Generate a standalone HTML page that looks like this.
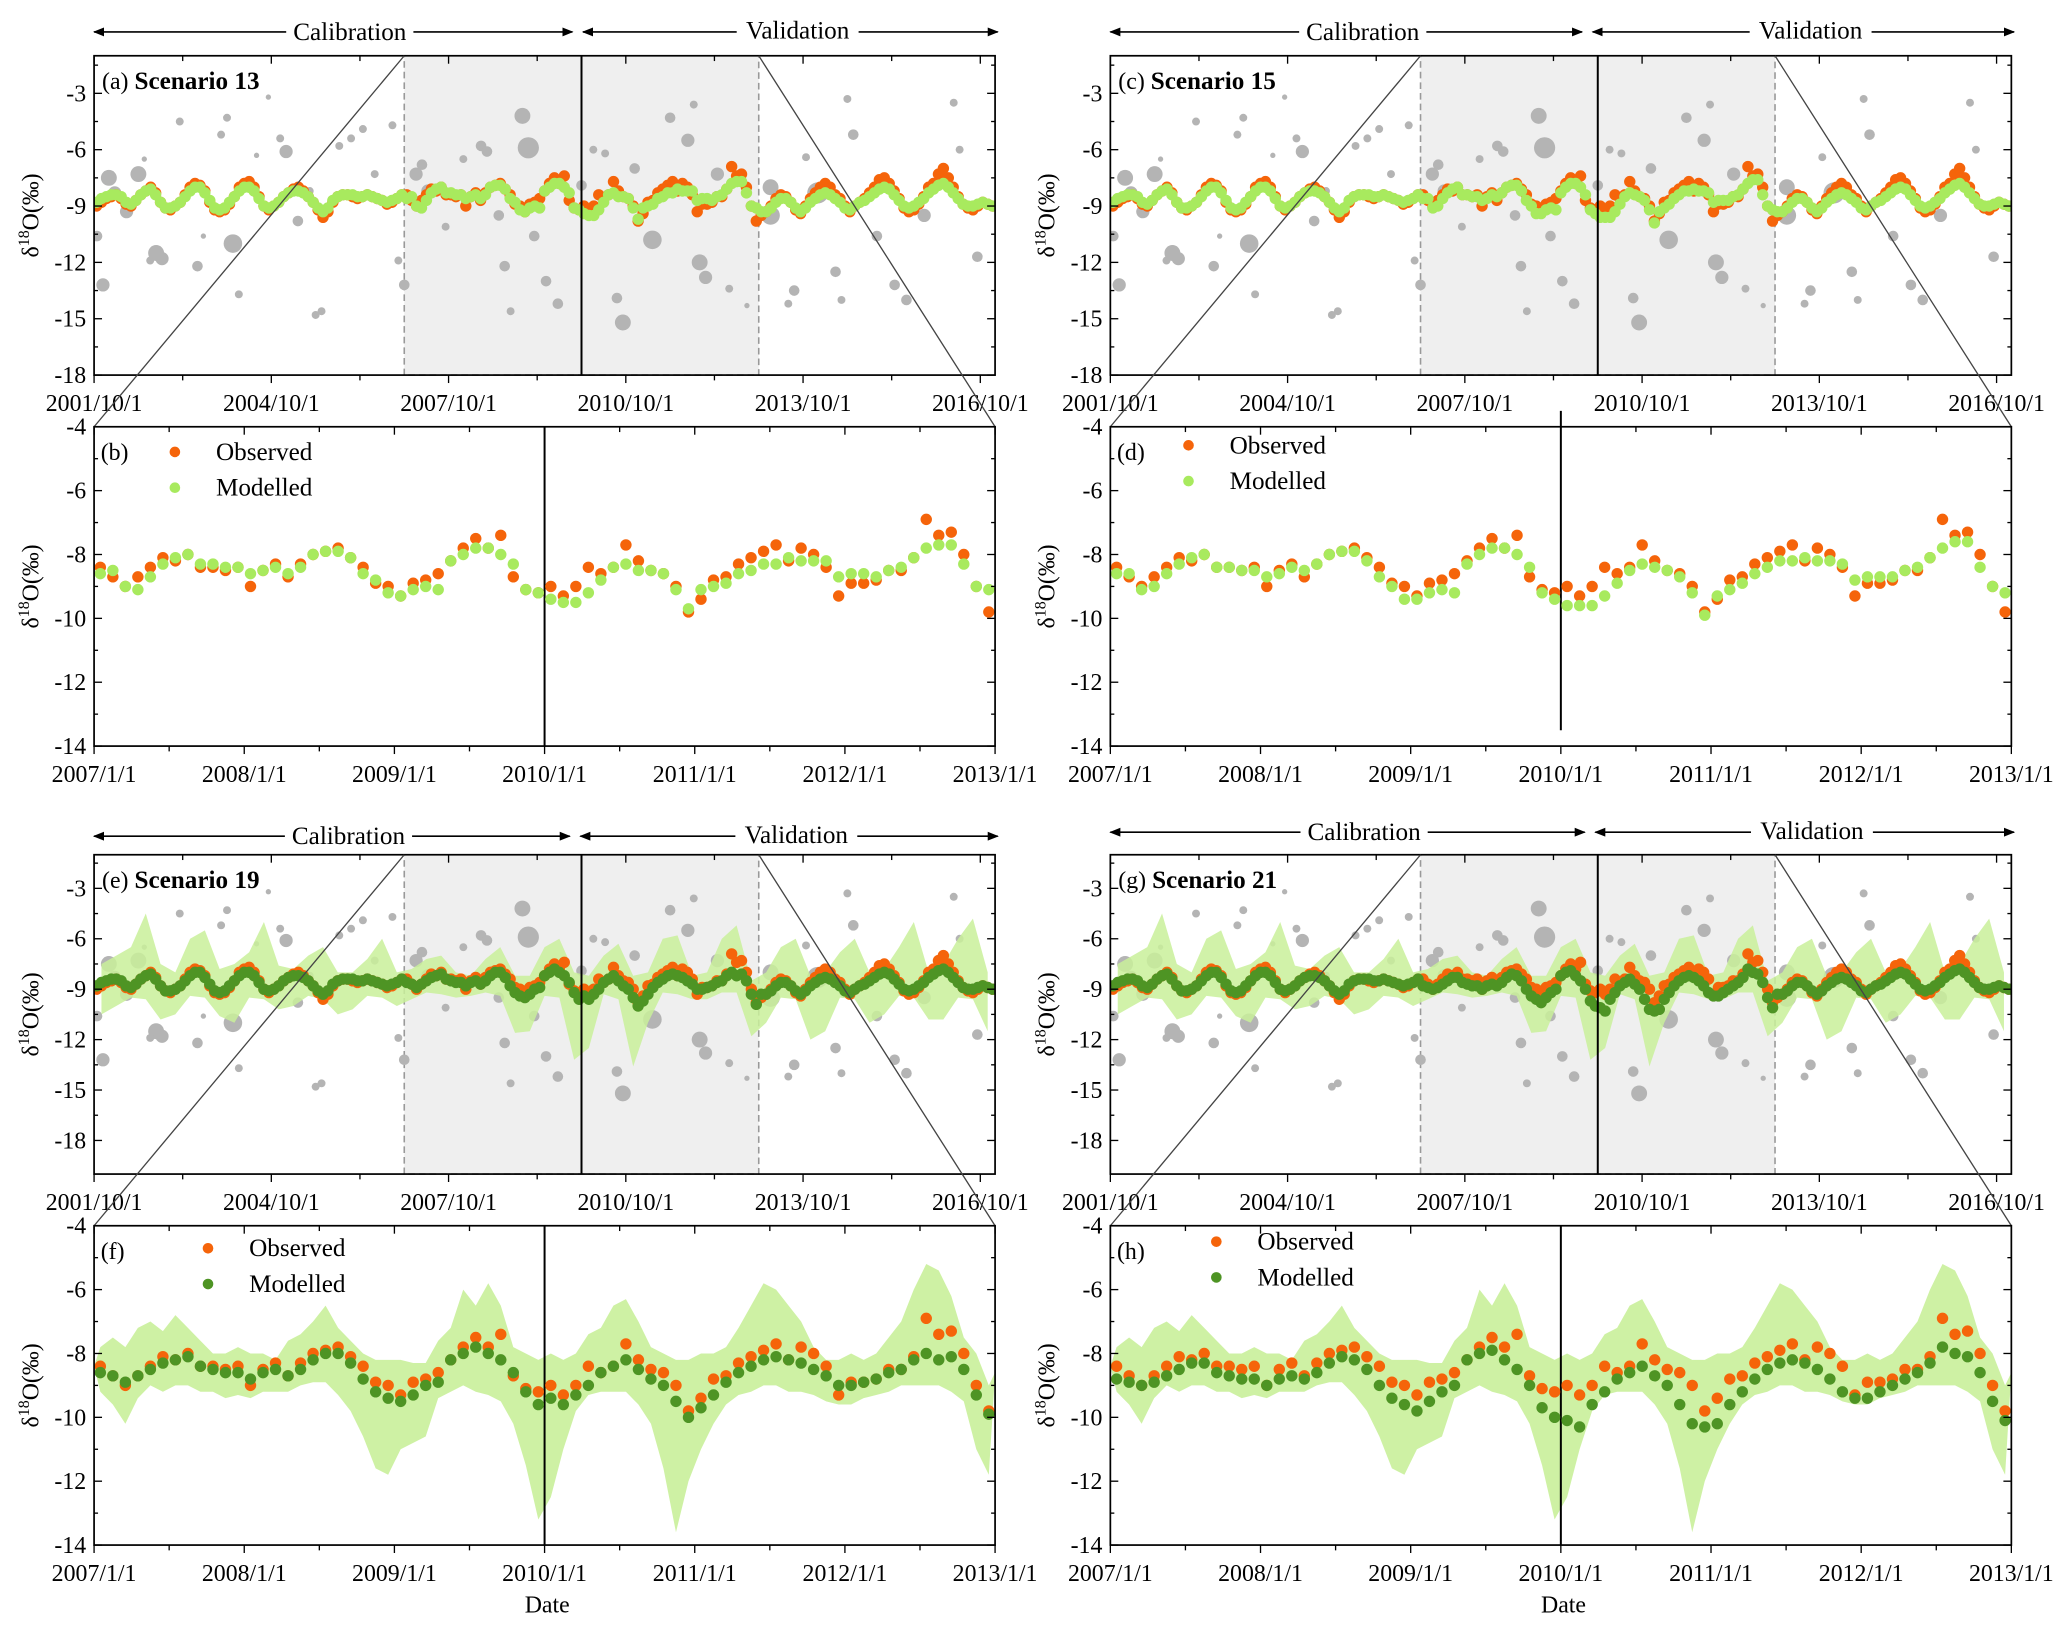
<!DOCTYPE html>
<html><head><meta charset="utf-8"><style>
html,body{margin:0;padding:0;background:#fff;}
svg{display:block;font-family:"Liberation Serif","DejaVu Serif",serif;}
svg text{font-family:"Liberation Serif","DejaVu Serif",serif;}
</style></head><body>
<svg id="chart" xmlns="http://www.w3.org/2000/svg" width="2067" height="1626" viewBox="0 0 1560 1227" font-family="Liberation Serif, serif">
<defs>
<marker id="ah" viewBox="0 0 10 10" refX="9" refY="5" markerWidth="7" markerHeight="7" orient="auto-start-reverse"><path d="M0,1 L10,5 L0,9 z" fill="#000"/></marker>
</defs>
</svg>
<script>
// ---------- DATA ----------
const obsMonthly = [
-8.4,-8.7,-9.0,-8.7,-8.4,-8.1,-8.2,-8.0,-8.4,-8.4,-8.5,-8.4,
-9.0,-8.5,-8.3,-8.7,-8.3,-8.0,-7.9,-7.8,-8.1,-8.4,-8.9,-9.0,
-9.3,-8.9,-8.8,-8.6,-8.2,-7.8,-7.5,-7.8,-7.4,-8.7,-9.1,-9.2,
-9.0,-9.3,-9.0,-8.4,-8.6,-8.4,-7.7,-8.2,-8.5,-8.6,-9.0,-9.8,
-9.4,-8.8,-8.7,-8.3,-8.1,-7.9,-7.7,-8.2,-7.8,-8.0,-8.4,-9.3,
-8.9,-8.9,-8.8,-8.5,-8.5,-8.1,-6.9,-7.4,-7.3,-8.0,-9.0,-9.8];
const mod13 = [
-8.6,-8.5,-9.0,-9.1,-8.7,-8.3,-8.1,-8.0,-8.3,-8.3,-8.4,-8.4,
-8.6,-8.5,-8.4,-8.6,-8.4,-8.0,-7.9,-7.9,-8.1,-8.6,-8.8,-9.2,
-9.3,-9.1,-9.0,-9.1,-8.2,-8.0,-7.8,-7.8,-8.0,-8.3,-9.1,-9.2,
-9.4,-9.5,-9.5,-9.2,-8.8,-8.4,-8.3,-8.5,-8.5,-8.6,-9.1,-9.7,
-9.1,-9.0,-8.9,-8.6,-8.5,-8.3,-8.3,-8.1,-8.2,-8.2,-8.2,-8.7,
-8.6,-8.6,-8.7,-8.5,-8.4,-8.1,-7.8,-7.7,-7.7,-8.3,-9.0,-9.1];
const mod15 = [
-8.6,-8.6,-9.1,-9.0,-8.6,-8.3,-8.1,-8.0,-8.4,-8.4,-8.5,-8.5,
-8.7,-8.6,-8.4,-8.5,-8.3,-8.0,-7.9,-7.9,-8.2,-8.7,-9.0,-9.4,
-9.4,-9.2,-9.1,-9.2,-8.3,-8.0,-7.8,-7.8,-8.0,-8.4,-9.2,-9.4,
-9.6,-9.6,-9.6,-9.3,-8.9,-8.5,-8.3,-8.4,-8.5,-8.7,-9.2,-9.9,
-9.3,-9.1,-8.9,-8.6,-8.4,-8.2,-8.2,-8.1,-8.2,-8.2,-8.3,-8.8,
-8.7,-8.7,-8.7,-8.5,-8.4,-8.1,-7.8,-7.6,-7.6,-8.4,-9.0,-9.2];
const mod19 = [
-8.6,-8.7,-8.9,-8.7,-8.5,-8.3,-8.2,-8.1,-8.4,-8.5,-8.6,-8.6,
-8.8,-8.6,-8.5,-8.7,-8.5,-8.2,-8.0,-8.0,-8.3,-8.8,-9.2,-9.4,
-9.5,-9.3,-9.0,-8.9,-8.2,-8.0,-7.8,-8.0,-8.2,-8.6,-9.2,-9.6,
-9.4,-9.6,-9.3,-9.0,-8.6,-8.4,-8.2,-8.5,-8.8,-9.0,-9.5,-10.0,
-9.7,-9.3,-8.9,-8.6,-8.4,-8.2,-8.1,-8.2,-8.3,-8.5,-8.7,-9.0,
-9.0,-8.9,-8.8,-8.6,-8.5,-8.2,-8.0,-8.2,-8.1,-8.5,-9.3,-9.9];
const mod21 = [
-8.8,-8.9,-9.0,-8.9,-8.7,-8.5,-8.3,-8.3,-8.6,-8.7,-8.8,-8.8,
-9.0,-8.8,-8.7,-8.8,-8.6,-8.3,-8.1,-8.2,-8.5,-9.0,-9.4,-9.6,
-9.8,-9.5,-9.2,-9.0,-8.2,-8.0,-7.9,-8.2,-8.5,-9.0,-9.7,-10.0,
-10.1,-10.3,-9.6,-9.2,-8.8,-8.6,-8.4,-8.7,-9.0,-9.6,-10.2,-10.3,
-10.2,-9.6,-9.2,-8.8,-8.5,-8.3,-8.2,-8.3,-8.5,-8.8,-9.2,-9.4,
-9.4,-9.2,-9.0,-8.8,-8.6,-8.3,-7.8,-8.0,-8.1,-8.6,-9.5,-10.1];
const obsPre = [-9.0,-8.8,-8.6,
-8.5,-8.4,-8.6,-8.9,-9.0,-8.7,-8.4,-8.2,-8.0,-8.3,-8.8,-9.1,
-9.2,-9.0,-8.8,-8.4,-8.0,-7.8,-7.9,-8.2,-8.8,-9.2,-9.3,-9.2,
-8.9,-8.5,-8.0,-7.8,-7.7,-8.0,-8.5,-9.0,-9.2,-9.0,-8.8,-8.5,
-8.3,-8.1,-8.0,-8.2,-8.5,-8.8,-9.2,-9.6,-9.3,-8.8,-8.5,-8.4,
-8.4,-8.5,-8.6,-8.5,-8.4,-8.5,-8.6,-8.7,-8.9,-8.8,-8.6,-8.4];
const obsPost = [
-9.5,-9.3,-9.0,-8.6,-8.4,-8.5,-8.8,-9.2,-9.4,-9.0,-8.6,-8.3,
-8.0,-7.8,-8.0,-8.4,-8.6,-9.0,-9.3,-9.0,-8.8,-8.6,-8.3,-8.0,
-7.6,-7.5,-7.8,-8.2,-8.6,-9.1,-9.3,-9.2,-8.9,-8.5,-8.0,-7.8,
-7.3,-7.0,-7.5,-8.0,-8.5,-8.9,-9.1,-9.2,-9.0,-8.8,-8.9,-9.0];
const modPre = [-8.8,-8.6,-8.5,
-8.4,-8.4,-8.5,-8.8,-8.9,-8.7,-8.4,-8.2,-8.1,-8.4,-8.8,-9.1,
-9.1,-9.0,-8.8,-8.5,-8.2,-8.0,-8.0,-8.3,-8.7,-9.1,-9.2,-9.1,
-8.8,-8.5,-8.2,-8.0,-8.0,-8.2,-8.6,-9.0,-9.1,-9.0,-8.8,-8.5,
-8.3,-8.2,-8.2,-8.3,-8.5,-8.8,-9.1,-9.3,-9.1,-8.7,-8.5,-8.4,
-8.4,-8.4,-8.5,-8.5,-8.4,-8.5,-8.6,-8.7,-8.8,-8.7,-8.6,-8.4];
const modPost = [
-9.3,-9.3,-9.1,-8.8,-8.6,-8.6,-8.8,-9.1,-9.3,-9.1,-8.8,-8.6,
-8.4,-8.3,-8.4,-8.6,-8.8,-9.1,-9.2,-9.0,-8.8,-8.7,-8.5,-8.3,
-8.1,-8.0,-8.1,-8.4,-8.7,-9.0,-9.1,-9.0,-8.8,-8.6,-8.3,-8.1,
-7.9,-7.8,-8.0,-8.3,-8.6,-8.9,-9.0,-9.0,-8.9,-8.8,-8.9,-9.0];
const precYear = [2001.8,2001.9,2002.0,2002.1,2002.3,2002.5,2002.6,2002.8,2002.9,2002.7,2003.2,2003.5,2003.6,2003.9,2004.0,2004.1,2004.2,2004.5,2004.7,2004.9,2005.0,2005.2,2005.4,2005.5,2005.6,2005.9,2006.1,2006.3,2006.5,2006.8,2006.9,2007.0,2007.2,2007.3,2007.4,2007.7,2008.0,2008.3,2008.4,2008.6,2008.7,2008.8,2009.0,2009.1,2009.2,2009.4,2009.6,2010.0,2010.2,2010.4,2010.6,2010.7,2010.9,2011.2,2011.5,2011.8,2011.9,2012.0,2012.1,2012.3,2012.5,2012.8,2013.2,2013.2,2013.5,2013.6,2013.8,2014.0,2014.3,2014.4,2014.5,2014.6,2015.0,2015.3,2015.5,2015.8,2016.3,2016.4,2016.7];
const precValue = [-10.6,-13.2,-7.5,-8.3,-9.3,-7.3,-6.5,-11.5,-11.8,-11.9,-4.5,-12.2,-10.6,-5.2,-4.3,-11.0,-13.7,-6.3,-3.2,-5.4,-6.1,-9.8,-8.2,-14.8,-14.6,-5.8,-5.4,-4.9,-7.3,-4.7,-11.9,-13.2,-7.3,-6.8,-8.2,-10.1,-6.5,-5.8,-6.1,-9.5,-12.2,-14.6,-4.2,-5.9,-10.6,-13.0,-14.2,-7.9,-6.0,-6.2,-13.9,-15.2,-7.0,-10.8,-4.3,-5.5,-3.6,-12.0,-12.8,-7.3,-13.4,-14.3,-9.5,-8.0,-14.2,-13.5,-6.4,-8.3,-12.5,-14.0,-3.3,-5.2,-10.6,-13.2,-14.0,-9.5,-3.5,-6.0,-11.7];
const precSize = [4,5,6,5,5,6,2,6,5,3,3,4,2,3,3,7,3,2,2,3,5,4,3,3,3,3,3,3,3,3,3,4,5,4,5,3,3,4,4,4,4,3,6,8,4,4,4,4,3,3,4,6,4,7,4,5,3,6,5,5,3,2,7,6,3,4,3,8,4,3,3,4,4,4,4,5,3,3,4];
const bandHi = [-7.8,-7.5,-7.8,-7.2,-7.0,-7.3,-6.8,-7.2,-7.6,-8.0,-8.0,-7.8,
-8.0,-8.0,-8.2,-7.6,-7.4,-7.0,-6.5,-7.2,-7.6,-8.0,-8.2,-8.2,
-8.2,-8.3,-8.3,-7.6,-7.2,-6.0,-6.5,-5.8,-6.5,-7.8,-8.0,-8.2,
-8.0,-8.2,-8.0,-7.4,-7.2,-6.5,-6.3,-7.0,-7.8,-8.0,-8.2,-8.2,
-8.0,-8.0,-7.8,-7.2,-6.5,-5.8,-6.0,-6.5,-7.0,-7.8,-8.2,-8.2,
-8.0,-8.2,-8.0,-7.5,-7.0,-6.0,-5.2,-5.4,-6.2,-7.5,-8.0,-9.0];
const bandLo = [-9.2,-9.6,-10.2,-9.4,-9.0,-9.2,-9.0,-9.0,-9.2,-9.2,-9.4,-9.3,
-9.4,-9.2,-9.2,-9.2,-9.0,-8.9,-8.9,-9.3,-9.8,-10.6,-11.6,-11.8,
-11.0,-10.8,-10.6,-9.4,-9.2,-9.0,-9.2,-9.3,-9.5,-10.2,-11.5,-13.2,
-12.5,-11.0,-9.8,-9.3,-9.2,-9.2,-9.2,-9.6,-10.2,-11.6,-13.6,-12.0,
-11.0,-10.2,-9.6,-9.3,-9.2,-9.0,-9.0,-9.2,-9.2,-9.3,-9.5,-9.6,
-9.6,-9.4,-9.3,-9.2,-9.0,-9.0,-9.0,-9.0,-9.2,-9.5,-11.0,-11.8];
const bandLongHi = [-7.5,
-7.0,-6.5,-4.5,-7.5, -8.0,-6.0,-5.5,-7.8, -7.5,-6.8,-5.0,-7.6, -7.8,-7.0,-6.5,-8.0,
-8.0,-7.2,-6.0,-8.0, -7.8,-7.2,-7.0,-8.0, -8.2,-7.2,-6.5,-8.2, -8.2,-6.5,-6.0,-8.0,
-8.2,-7.0,-6.3,-8.2, -8.0,-6.0,-5.8,-8.2, -8.0,-6.0,-5.2,-8.5, -8.0,-6.5,-6.0,-8.2,
-8.0,-6.8,-6.0,-8.0, -7.8,-6.5,-5.0,-8.0, -7.5,-6.0,-4.8,-8.0];
const bandLongLo = [-10.5,
-10.0,-9.5,-9.6,-10.8, -10.5,-9.4,-9.5,-10.6, -11.0,-9.5,-9.6,-10.2, -10.0,-9.4,-9.6,-10.5,
-10.2,-9.4,-9.5,-10.0, -9.6,-9.2,-9.3,-9.5, -9.4,-9.2,-9.4,-11.6, -11.5,-9.4,-9.5,-13.2,
-12.5,-9.3,-9.6,-13.6, -11.0,-9.2,-9.3,-9.6, -9.6,-9.2,-9.2,-11.8, -11.0,-9.5,-9.6,-12.0,
-11.5,-9.5,-9.6,-11.0, -10.5,-9.4,-9.5,-10.8, -10.8,-9.5,-9.6,-11.5];
const longTicks = ["2001/10/1","2004/10/1","2007/10/1","2010/10/1","2013/10/1","2016/10/1"];
const shortTicks = ["2007/1/1","2008/1/1","2009/1/1","2010/1/1","2011/1/1","2012/1/1","2013/1/1"];

// ---------- DRAW ----------
const NS="http://www.w3.org/2000/svg";
const svg=document.getElementById('chart');
function mk(tag,attrs,parent){const e=document.createElementNS(NS,tag);for(const k in attrs)e.setAttribute(k,attrs[k]);(parent||svg).appendChild(e);return e;}
function txt(s,x,y,size,anchor,parent,extra){const t=mk('text',Object.assign({x:x,y:y,'font-size':size,'text-anchor':anchor||'start'},extra||{}),parent);t.textContent=s;return t;}

const cOrange="#f5640a", cLight="#a8ea5e", cDark="#4e9424", cGray="#b4b4b4", cBand="#c9f09a";
const LONG0=2001.75, LONG1=2017.0;

function panelLong(o){
  const g=mk('g',{});
  
  
  const X=v=>o.x0+(v-LONG0)/(LONG1-LONG0)*(o.x1-o.x0);
  const Y=v=>o.y0+(o.ymax-v)/(o.ymax-o.ymin)*(o.y1-o.y0);
  const clipId='c'+o.name;
  const cp=mk('clipPath',{id:clipId},g);mk('rect',{x:o.x0,y:o.y0,width:o.x1-o.x0,height:o.y1-o.y0},cp);
  const sh=mk('rect',{x:X(2007.0),y:o.y0,width:X(2013.0)-X(2007.0),height:o.y1-o.y0,fill:'#efefef',stroke:'#999','stroke-dasharray':'5,3','stroke-width':1.2},g);
  
  const inner=mk('g',{'clip-path':'url(#'+clipId+')'},g);
  for(let i=0;i<precYear.length;i++){
    const c=mk('circle',{cx:X(precYear[i]),cy:Y(precValue[i]),r:precSize[i],fill:cGray},inner);
    
    
  }
  if(o.band){
    let up=[],dn=[];
    for(let i=0;i<bandLongHi.length;i++){const t=LONG0+i*0.25+0.125;up.push(X(t)+','+Y(bandLongHi[i]));dn.unshift(X(t)+','+Y(bandLongLo[i]));}
    const p=mk('polygon',{points:up.concat(dn).join(' '),fill:cBand,opacity:0.85},inner);
    
  }
  const obs=obsPre.concat(obsMonthly,obsPost), mod=modPre.concat(o.mod,modPost);
  for(let i=0;i<obs.length;i++){const c=mk('circle',{cx:X(LONG0+(i+0.5)/12),cy:Y(obs[i]),r:4.3,fill:cOrange},inner);
    }
  for(let i=0;i<mod.length;i++){const c=mk('circle',{cx:X(LONG0+(i+0.5)/12),cy:Y(mod[i]),r:4.3,fill:o.mcol},inner);
    }
  mk('line',{x1:X(2010.0),x2:X(2010.0),y1:o.y0,y2:o.y1,stroke:'#000','stroke-width':1.5},g);
  mk('rect',{x:o.x0,y:o.y0,width:o.x1-o.x0,height:o.y1-o.y0,fill:'none',stroke:'#000','stroke-width':1.3},g);
  for(let v=-3;v>=o.ymin;v-=3){const y=Y(v);
    mk('line',{x1:o.x0,x2:o.x0+6,y1:y,y2:y,stroke:'#000'},g);mk('line',{x1:o.x1,x2:o.x1-6,y1:y,y2:y,stroke:'#000'},g);
    const yl=Y(v+1.5); if(v+1.5<o.ymax){mk('line',{x1:o.x0,x2:o.x0+3,y1:yl,y2:yl,stroke:'#000'},g);mk('line',{x1:o.x1,x2:o.x1-3,y1:yl,y2:yl,stroke:'#000'},g);}
    txt(String(v),o.x0-6,y+6,18,'end',g);}
  longTicks.forEach((s,k)=>{const x=X(LONG0+3*k);
    mk('line',{x1:x,x2:x,y1:o.y1,y2:o.y1+6,stroke:'#000'},g);mk('line',{x1:x,x2:x,y1:o.y0,y2:o.y0+6,stroke:'#000'},g);
    const t=txt(s,x,o.y1+27,18,'middle',g);
    if(k<5){const xm=X(LONG0+3*k+1.5);mk('line',{x1:xm,x2:xm,y1:o.y1,y2:o.y1+4,stroke:'#000'},g);mk('line',{x1:xm,x2:xm,y1:o.y0,y2:o.y0+4,stroke:'#000'},g);}});
  const yt=mk('text',{x:0,y:0,'font-size':18,'text-anchor':'middle',transform:'translate('+(o.x0-42)+','+((o.y0+o.y1)/2)+') rotate(-90)'},g);
  yt.innerHTML='δ<tspan font-size="12" dy="-7">18</tspan><tspan dy="7">O(‰)</tspan>';
  const pl=txt(o.label,o.x0+6,o.y0+25,18,'start',g);
  pl.innerHTML=o.label+'  <tspan font-weight="bold" font-size="19">'+o.title+'</tspan>';
  const ay=o.ay;
  mk('line',{x1:o.x0,x2:o.xd-5,y1:ay,y2:ay,stroke:'#000','stroke-width':1.2,'marker-start':'url(#ah)','marker-end':'url(#ah)'},g);
  mk('line',{x1:o.xd+3,x2:o.x1+2,y1:ay,y2:ay,stroke:'#000','stroke-width':1.2,'marker-start':'url(#ah)','marker-end':'url(#ah)'},g);
  const cx=(o.x0+o.xd)/2+10, vx=(o.xd+o.x1)/2+8;
  mk('rect',{x:cx-48,y:ay-12,width:96,height:22,fill:'#fff'},g);
  const ct=txt('Calibration',cx,ay+6,19,'middle',g);
  mk('rect',{x:vx-46,y:ay-12,width:92,height:22,fill:'#fff'},g);
  const vt=txt('Validation',vx,ay+5,19,'middle',g);
  mk('line',{x1:X(2007.0),y1:o.y0,x2:o.x0,y2:o.zy,stroke:'#444','stroke-width':1},g);
  mk('line',{x1:X(2013.0),y1:o.y0,x2:o.x1,y2:o.zy,stroke:'#444','stroke-width':1},g);
}

function panelShort(o){
  const g=mk('g',{});
  
  
  const X=v=>o.x0+(v-2007)/6*(o.x1-o.x0);
  const Y=v=>o.y0+(-4-v)/10*(o.y1-o.y0);
  if(o.band){
    let up=[],dn=[];
    for(let i=0;i<bandHi.length;i++){const t=2007+(i+0.5)/12;up.push(X(t)+','+Y(bandHi[i]));dn.unshift(X(t)+','+Y(bandLo[i]));}
    const p=mk('polygon',{points:[X(2007)+','+Y(-8.4)].concat(up,[X(2013)+','+Y(-8.6)],dn).join(' '),fill:cBand,opacity:0.9},g);
    
  }
  mk('line',{x1:X(2010),x2:X(2010),y1:o.y0-(o.lineTop||0),y2:o.lineBot||o.y1,stroke:'#000','stroke-width':1.5},g);
  for(let i=0;i<obsMonthly.length;i++){const c=mk('circle',{cx:X(2007+(i+0.5)/12),cy:Y(obsMonthly[i]),r:4.3,fill:cOrange},g);
    }
  for(let i=0;i<o.mod.length;i++){const c=mk('circle',{cx:X(2007+(i+0.5)/12),cy:Y(o.mod[i]),r:4.3,fill:o.mcol},g);
    }
  mk('rect',{x:o.x0,y:o.y0,width:o.x1-o.x0,height:o.y1-o.y0,fill:'none',stroke:'#000','stroke-width':1.3},g);
  for(let v=-4;v>=-14;v-=2){const y=Y(v);
    mk('line',{x1:o.x0,x2:o.x0+6,y1:y,y2:y,stroke:'#000'},g);mk('line',{x1:o.x1,x2:o.x1-6,y1:y,y2:y,stroke:'#000'},g);
    if(v>-14){const ym=Y(v-1);mk('line',{x1:o.x0,x2:o.x0+3,y1:ym,y2:ym,stroke:'#000'},g);mk('line',{x1:o.x1,x2:o.x1-3,y1:ym,y2:ym,stroke:'#000'},g);}
    txt(String(v),o.x0-6,y+6,18,'end',g);}
  shortTicks.forEach((s,k)=>{const x=X(2007+k);
    mk('line',{x1:x,x2:x,y1:o.y1,y2:o.y1+6,stroke:'#000'},g);mk('line',{x1:x,x2:x,y1:o.y0,y2:o.y0+6,stroke:'#000'},g);
    const t=txt(s,x,o.y1+27,18,'middle',g);
    if(k<6){const xm=X(2007+k+0.5);mk('line',{x1:xm,x2:xm,y1:o.y1,y2:o.y1+4,stroke:'#000'},g);mk('line',{x1:xm,x2:xm,y1:o.y0,y2:o.y0+4,stroke:'#000'},g);}});
  const yt=mk('text',{x:0,y:0,'font-size':18,'text-anchor':'middle',transform:'translate('+(o.x0-42)+','+((o.y0+o.y1)/2)+') rotate(-90)'},g);
  yt.innerHTML='δ<tspan font-size="12" dy="-7">18</tspan><tspan dy="7">O(‰)</tspan>';
  txt(o.label,o.x0+5,o.y0+25,18,'start',g);
  const lg=mk('g',{},g);
  mk('circle',{cx:o.lx,cy:o.ly,r:4,fill:cOrange},lg);txt('Observed',o.lx+31,o.ly+6,19,'start',lg);
  mk('circle',{cx:o.lx,cy:o.ly+27,r:4,fill:o.mcol},lg);txt('Modelled',o.lx+31,o.ly+33,19,'start',lg);
  if(o.date){const d=txt('Date',(o.x0+o.x1)/2+2,o.y1+51,18,'middle',g);}
}

panelLong({name:'panel-a',x0:71,x1:751,y0:42,y1:283,ymin:-18,ymax:-1,mod:mod13,mcol:cLight,label:'(a)',title:'Scenario 13',ay:24,xd:437,zy:322,band:false});
panelShort({name:'panel-b',x0:71,x1:751,y0:322,y1:563,mod:mod13,mcol:cLight,label:'(b)',lx:132,ly:341});
panelLong({name:'panel-c',x0:838,x1:1518,y0:42,y1:283,ymin:-18,ymax:-1,mod:mod15,mcol:cLight,label:'(c)',title:'Scenario 15',ay:24,xd:1199,zy:322,band:false});
panelShort({name:'panel-d',x0:838,x1:1518,y0:322,y1:563,mod:mod15,mcol:cLight,label:'(d)',lx:897,ly:336,lineTop:12,lineBot:551});
panelLong({name:'panel-e',x0:71,x1:751,y0:645,y1:886,ymin:-20,ymax:-1,mod:mod19,mcol:cDark,label:'(e)',title:'Scenario 19',ay:631,xd:435,zy:925,band:true});
panelShort({name:'panel-f',x0:71,x1:751,y0:925,y1:1166,mod:mod19,mcol:cDark,label:'(f)',lx:157,ly:942,band:true,date:true});
panelLong({name:'panel-g',x0:838,x1:1518,y0:645,y1:886,ymin:-20,ymax:-1,mod:mod21,mcol:cDark,label:'(g)',title:'Scenario 21',ay:628,xd:1201,zy:925,band:true});
panelShort({name:'panel-h',x0:838,x1:1518,y0:925,y1:1166,mod:mod21,mcol:cDark,label:'(h)',lx:918,ly:937,band:true,date:true});
</script>
</body></html>
